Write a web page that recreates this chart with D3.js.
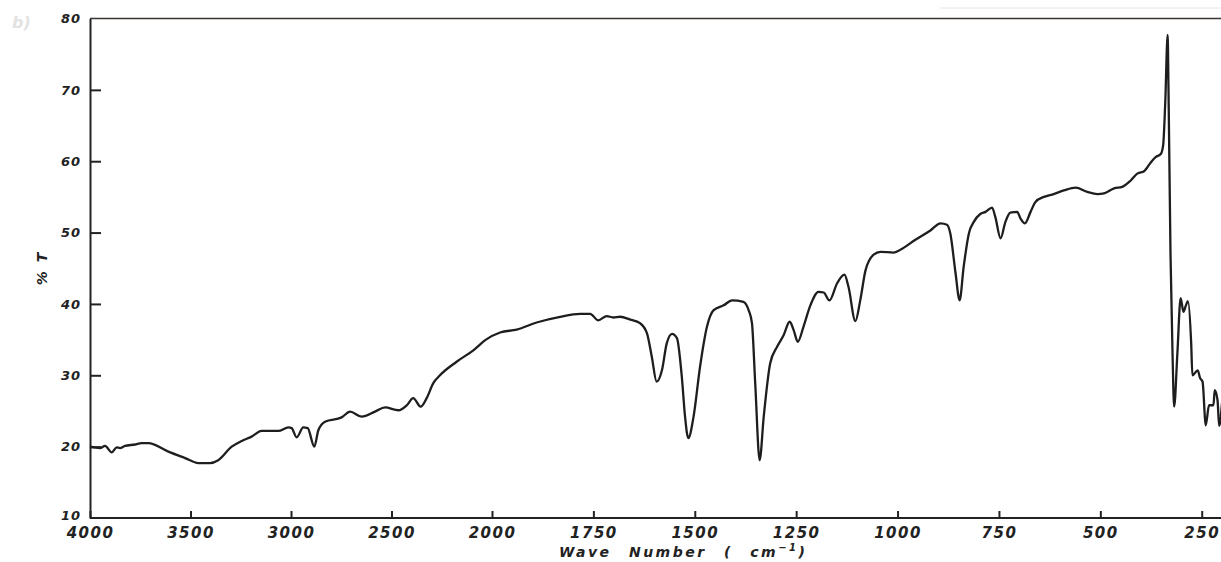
<!DOCTYPE html>
<html>
<head>
<meta charset="utf-8">
<script src="https://cdn.jsdelivr.net/npm/d3@7"></script>
<style>
    body { margin: 0; background: #fff; }
    text { font-family: "DejaVu Sans", sans-serif; font-style: italic; font-weight: bold; fill: #222; }
</style>
</head>
<body>
<div id="chart"></div>
<script>
// IR spectrum
const waveNumber = [
    4000, 3950, 3925, 3892, 3867, 3851, 3826, 3776, 3743, 3710, 3610, 3527, 3461, 3403, 3362,
    3295, 3245, 3196, 3146, 3096, 3063, 3013, 2997, 2972, 2939, 2917, 2884, 2864, 2831, 2748,
    2706, 2648, 2582, 2532, 2466, 2424, 2392, 2355, 2325, 2292, 2259, 2176, 2093, 2030, 1980,
    1939, 1890, 1832, 1783, 1758, 1738, 1717, 1701, 1684, 1659, 1635, 1618, 1606, 1594, 1581,
    1569, 1556, 1544, 1532, 1524, 1516, 1503, 1487, 1470, 1454, 1429, 1408, 1380, 1367, 1359,
    1351, 1340, 1330, 1314, 1297, 1281, 1266, 1256, 1246, 1232, 1215, 1195, 1182, 1168, 1149,
    1131, 1121, 1104, 1092, 1079, 1059, 1042, 1010, 993, 956, 919, 894, 878, 870, 857,
    847, 837, 824, 812, 796, 783, 767, 759, 746, 734, 722, 705, 697, 686, 672,
    660, 639, 615, 590, 561, 532, 507, 491, 466, 446, 425, 408, 392, 376, 363,
    351, 345, 340, 334, 332, 327, 322, 318, 310, 302, 295, 289, 284, 276, 273,
    260, 254, 248, 240, 232, 221, 218, 211, 207, 200
]
const transmittance = [
    20.0, 19.8, 20.1, 19.2, 19.9, 19.8, 20.1, 20.3, 20.5, 20.5, 19.3, 18.4, 17.7, 17.7, 18.1,
    20.0, 20.8, 21.4, 22.2, 22.2, 22.2, 22.7, 22.6, 21.3, 22.7, 22.6, 20.0, 22.3, 23.5, 24.1,
    24.9, 24.2, 24.9, 25.5, 25.1, 25.8, 26.8, 25.6, 26.8, 28.9, 30.0, 31.9, 33.5, 35.0, 36.0,
    36.4, 37.4, 38.2, 38.6, 38.6, 37.7, 38.3, 38.1, 38.2, 37.8, 37.3, 35.9, 32.6, 29.1, 30.7,
    34.5, 35.8, 35.2, 29.8, 24.2, 21.2, 24.2, 31.2, 36.8, 39.1, 39.8, 40.5, 40.3, 39.1, 37.3,
    28.9, 18.1, 24.2, 31.7, 34.0, 35.6, 37.5, 36.3, 34.7, 36.8, 39.8, 41.7, 41.6, 40.5, 42.9,
    44.1, 42.4, 37.6, 40.5, 44.7, 46.9, 47.3, 47.2, 47.6, 49.0, 50.3, 51.3, 51.1, 49.9, 44.3,
    40.5, 45.2, 49.9, 51.5, 52.6, 52.9, 53.5, 52.2, 49.2, 51.5, 52.8, 52.9, 52.0, 51.3, 52.9,
    54.3, 55.0, 55.4, 55.9, 56.3, 55.7, 55.4, 55.5, 56.2, 56.4, 57.3, 58.3, 58.6, 59.8, 60.6,
    61.0, 62.3, 68.1, 77.7, 70.4, 47.1, 33.1, 25.6, 33.1, 40.8, 38.9, 39.8, 40.4, 34.5, 30.0,
    30.7, 29.6, 29.1, 23.0, 25.8, 25.8, 27.9, 26.5, 22.9, 26.1
]
const xTicks = [4000, 3500, 3000, 2500, 2000, 1750, 1500, 1250, 1000, 750, 500, 250]
const yTicks = [10, 20, 30, 40, 50, 60, 70, 80]

function drawChart() {
    const width = 1221
    const height = 562
    const left = 90
    const top = 18.5
    const bottom = 518

    const svg = d3.select("#chart").append("svg")
        .attr("width", width)
        .attr("height", height)

    // scale is compressed 2x above 2000 cm-1, like the instrument chart paper
    const xScale = d3.scaleLinear()
        .domain([4000, 2000, 200])
        .range([left, 492, 1222])
    const yScale = d3.scaleLinear()
        .domain([10, 80])
        .range([bottom, top])

    // faint scan marks
    svg.append("text")
        .attr("x", 12).attr("y", 28)
        .style("font-size", "16px")
        .style("fill", "#e2e2e2")
        .text("b)")
    svg.append("line")
        .attr("x1", 940).attr("x2", width)
        .attr("y1", 8).attr("y2", 8)
        .attr("stroke", "#e4e4e4")
        .attr("stroke-width", 1)

    // frame top
    svg.append("line")
        .attr("x1", left).attr("x2", width)
        .attr("y1", top).attr("y2", top)
        .attr("stroke", "#3a3530")
        .attr("stroke-width", 1.6)

    const xAxis = svg.append("g")
        .attr("transform", `translate(0, ${bottom})`)
        .call(d3.axisBottom(xScale).tickValues(xTicks).tickFormat(d3.format("d"))
            .tickSize(-7).tickSizeOuter(0))
    xAxis.select(".domain").attr("stroke", "#222").attr("stroke-width", 2)
        .attr("d", `M${left},0H${width}`)
    xAxis.selectAll(".tick line").attr("stroke", "#222").attr("stroke-width", 2)
    xAxis.selectAll(".tick text")
        .attr("dy", "0.71em")
        .attr("y", 9)
        .style("font-size", "15px")
        .style("letter-spacing", "1.5px")
        .style("font-family", "'DejaVu Sans', sans-serif")
        .style("font-style", "italic")
        .style("font-weight", "bold")
        .style("fill", "#222")

    const yAxis = svg.append("g")
        .attr("transform", `translate(${left}, 0)`)
        .call(d3.axisLeft(yScale).tickValues(yTicks).tickSize(-11).tickSizeOuter(0))
    yAxis.select(".domain").attr("stroke", "#222").attr("stroke-width", 2)
    yAxis.selectAll(".tick line").attr("stroke", "#222").attr("stroke-width", 2)
        .filter(d => d === 80 || d === 10).remove()
    yAxis.selectAll(".tick text")
        .attr("x", -9)
        .attr("dy", d => d === 10 ? "0.1em" : "0.32em")
        .style("font-size", "13px")
        .style("letter-spacing", "1px")
        .style("font-family", "'DejaVu Sans', sans-serif")
        .style("font-style", "italic")
        .style("font-weight", "bold")
        .style("fill", "#222")

    // axis titles
    svg.append("text")
        .attr("transform", "translate(47, 268) rotate(-90)")
        .attr("text-anchor", "middle")
        .style("font-size", "14px")
        .style("letter-spacing", "2px")
        .text("% T")

    const xTitle = svg.append("text")
        .attr("x", 559).attr("y", 557)
        .style("font-size", "14px")
        .style("letter-spacing", "2.5px")
        .style("word-spacing", "10px")
    xTitle.append("tspan").text("Wave Number ( cm")
    xTitle.append("tspan").attr("dy", -6).style("font-size", "10px").text("−1")
    xTitle.append("tspan").attr("dy", 6).text(")")

    // spectrum
    const points = waveNumber.map((w, i) => [w, transmittance[i]])
    const line = d3.line()
        .x(d => xScale(d[0]))
        .y(d => yScale(d[1]))
        .curve(d3.curveMonotoneX)

    svg.append("path")
        .datum(points)
        .attr("d", line)
        .attr("fill", "none")
        .attr("stroke", "#1e1e1e")
        .attr("stroke-width", 2.3)
        .attr("stroke-linejoin", "round")
}

drawChart()
</script>
</body>
</html>
